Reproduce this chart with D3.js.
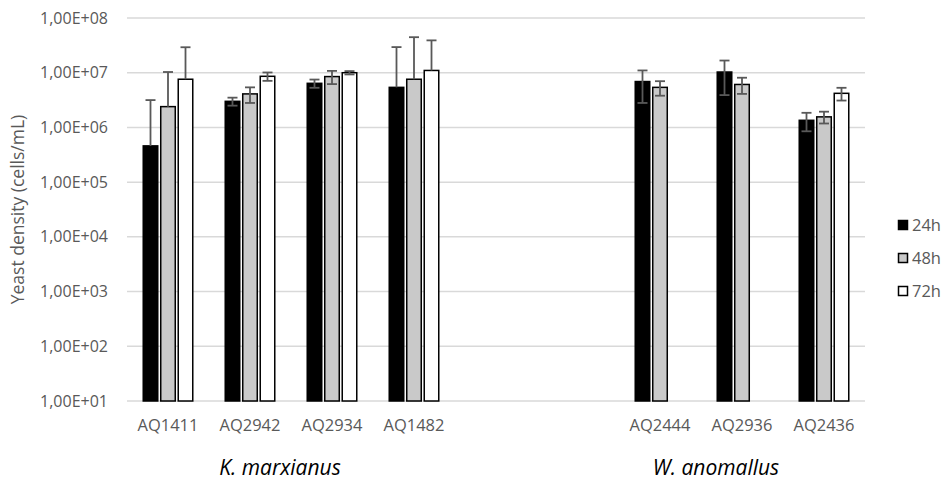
<!DOCTYPE html>
<html>
<head>
<meta charset="utf-8">
<script src="https://cdn.jsdelivr.net/npm/d3@7"></script>
<style>
  body { margin: 0; background: #fff; }
  text { font-family: "Liberation Sans Narrow", "Open Sans", sans-serif; }
</style>
</head>
<body>
<div id="chart"></div>
<script>
// DATA
const slots = ["AQ1411", "AQ2942", "AQ2934", "AQ1482", "gap1", "gap2", "AQ2444", "AQ2936", "AQ2436"];
const strains = ["AQ1411", "AQ2942", "AQ2934", "AQ1482", "AQ2444", "AQ2936", "AQ2436"];
const series = ["24h", "48h", "72h"];
const val24 = [4.6e5, 3.0e6, 6.4e6, 5.4e6, 6.9e6, 1.03e7, 1.35e6];
const val48 = [2.4e6, 4.1e6, 8.5e6, 7.6e6, 5.4e6, 6.1e6, 1.56e6];
const val72 = [7.6e6, 8.6e6, 1.0e7, 1.1e7, null, null, 4.2e6];
const err24 = [2.7e6, 0.5e6, 1.1e6, 2.4e7, 4.1e6, 6.4e6, 0.5e6];
const err48 = [7.9e6, 1.3e6, 2.3e6, 3.7e7, 1.6e6, 2.0e6, 0.38e6];
const err72 = [2.16e7, 1.5e6, 0.7e6, 2.8e7, null, null, 1.1e6];
const yTicks = [1e1, 1e2, 1e3, 1e4, 1e5, 1e6, 1e7, 1e8];
const species = [
    { name: "K. marxianus", from: "AQ1411", to: "AQ1482" },
    { name: "W. anomallus", from: "AQ2444", to: "AQ2436" }
];

const width = 943;
const height = 483;
const margin = { top: 18, right: 78, bottom: 82, left: 127 };

const fills = { "24h": "#000000", "48h": "#c9c9c9", "72h": "#ffffff" };
const textColor = "#595959";

const vals = [val24, val48, val72];
const errs = [err24, err48, err72];
const rows = [];
strains.forEach((s, i) => {
    series.forEach((k, j) => {
        if (vals[j][i] != null) rows.push({ strain: s, key: k, value: vals[j][i], err: errs[j][i] });
    });
});

const svg = d3.select("#chart")
    .append("svg")
    .attr("width", width)
    .attr("height", height);

// --- SCALES ---
const x0 = d3.scaleBand()
    .domain(slots)
    .range([margin.left, width - margin.right])
    .paddingInner(0.396)
    .paddingOuter(0.198);

const x1 = d3.scaleBand()
    .domain(series)
    .range([0, x0.bandwidth()])
    .paddingInner(0.17);

const y = d3.scaleLog()
    .domain([1e1, 1e8])
    .range([height - margin.bottom, margin.top]);

const fmt = d => "1,00E+" + String(Math.round(Math.log10(d))).padStart(2, "0");

// --- GRID ---
svg.append("g")
    .selectAll("line")
    .data(yTicks)
    .join("line")
    .attr("x1", margin.left)
    .attr("x2", width - margin.right)
    .attr("y1", d => y(d))
    .attr("y2", d => y(d))
    .attr("stroke", "#d9d9d9")
    .attr("stroke-width", 1.5);

// Y labels
svg.append("g")
    .selectAll("text")
    .data(yTicks)
    .join("text")
    .attr("x", 108)
    .attr("y", d => y(d))
    .attr("dy", "0.35em")
    .attr("text-anchor", "end")
    .attr("font-size", "16px")
    .attr("fill", textColor)
    .text(fmt);

// X labels
svg.append("g")
    .selectAll("text")
    .data(strains)
    .join("text")
    .attr("x", d => x0(d) + x0.bandwidth() / 2)
    .attr("y", 431)
    .attr("text-anchor", "middle")
    .attr("font-size", "16.5px")
    .attr("fill", textColor)
    .text(d => d);

// Y title
svg.append("text")
    .attr("transform", `translate(24, ${(y(1e1) + y(1e8)) / 2}) rotate(-90)`)
    .attr("text-anchor", "middle")
    .attr("font-size", "17.5px")
    .attr("fill", textColor)
    .text("Yeast density (cells/mL)");

// --- BARS ---
svg.append("g")
    .selectAll("rect")
    .data(rows)
    .join("rect")
    .attr("x", d => x0(d.strain) + x1(d.key))
    .attr("y", d => y(d.value))
    .attr("width", x1.bandwidth())
    .attr("height", d => y(1e1) - y(d.value))
    .attr("fill", d => fills[d.key])
    .attr("stroke", "#000")
    .attr("stroke-width", 1.5);

// --- ERROR BARS ---
const eb = svg.append("g")
    .attr("stroke", "#595959")
    .attr("stroke-width", 1.8);

rows.forEach(d => {
    const cx = x0(d.strain) + x1(d.key) + x1.bandwidth() / 2;
    const top = y(d.value + d.err);
    const low = d.value - d.err;
    const bottom = low > 0 ? y(low) : y(d.value);
    eb.append("line").attr("x1", cx).attr("x2", cx).attr("y1", top).attr("y2", bottom);
    eb.append("line").attr("x1", cx - 5).attr("x2", cx + 5).attr("y1", top).attr("y2", top);
    if (low > 0) {
        eb.append("line").attr("x1", cx - 5).attr("x2", cx + 5).attr("y1", bottom).attr("y2", bottom);
    }
});

// --- SPECIES LABELS ---
svg.append("g")
    .selectAll("text")
    .data(species)
    .join("text")
    .attr("x", d => (x0(d.from) + x0(d.to) + x0.bandwidth()) / 2 - (d.name[0] === "K" ? 11 : 26))
    .attr("y", 475)
    .attr("text-anchor", "middle")
    .attr("font-size", "21px")
    .attr("font-style", "italic")
    .attr("fill", "#000")
    .text(d => d.name);

// --- LEGEND ---
const legend = svg.append("g")
    .attr("transform", "translate(898, 225)");

const li = legend.selectAll("g")
    .data(series)
    .join("g")
    .attr("transform", (d, i) => `translate(0, ${i * 33})`);

li.append("rect")
    .attr("x", 0.5)
    .attr("y", -4.5)
    .attr("width", 9)
    .attr("height", 9)
    .attr("fill", d => fills[d])
    .attr("stroke", "#000")
    .attr("stroke-width", 1.5);

li.append("text")
    .attr("x", 14)
    .attr("dy", "0.35em")
    .attr("font-size", "16.5px")
    .attr("fill", textColor)
    .text(d => d);
</script>
</body>
</html>
